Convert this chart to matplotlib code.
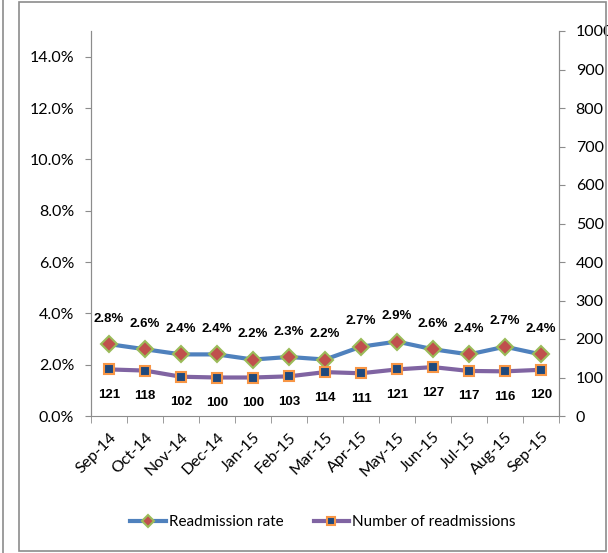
import matplotlib
matplotlib.use("Agg")
import matplotlib.pyplot as plt
from matplotlib.lines import Line2D
from matplotlib.patches import Rectangle
import numpy as np

months = ["Sep-14", "Oct-14", "Nov-14", "Dec-14", "Jan-15", "Feb-15", "Mar-15",
          "Apr-15", "May-15", "Jun-15", "Jul-15", "Aug-15", "Sep-15"]
readmission_rate = [2.8, 2.6, 2.4, 2.4, 2.2, 2.3, 2.2, 2.7, 2.9, 2.6, 2.4, 2.7, 2.4]
readmissions = [121, 118, 102, 100, 100, 103, 114, 111, 121, 127, 117, 116, 120]
pct_ticks = [0, 2, 4, 6, 8, 10, 12, 14]
count_ticks = [0, 100, 200, 300, 400, 500, 600, 700, 800, 900, 1000]

plt.rcParams["font.family"] = ["Lato", "DejaVu Sans"]

fig = plt.figure(figsize=(6.08, 5.53), dpi=100)
W, H = 608, 553

# outer frames
fig.add_artist(Line2D([3 / W, 3 / W], [0, 1], color="#8c8c8c", lw=1.2))
fig.add_artist(Rectangle((19 / W, 2 / H), 587 / W, 549 / H, fill=False,
                         edgecolor="#8c8c8c", lw=1.2, transform=fig.transFigure))

ax = fig.add_axes([91 / W, (H - 416) / H, (559 - 91) / W, (416 - 31) / H])
ax2 = ax.twinx()

x = np.arange(len(months))

l1, = ax.plot(x, readmission_rate, color="#4F81BD", lw=3, marker="D", ms=8,
              markerfacecolor="#C0504D", markeredgecolor="#9BBB59", mew=1.5, zorder=3)
l2, = ax2.plot(x, readmissions, color="#8064A2", lw=3, marker="s", ms=7,
               markerfacecolor="#1F497D", markeredgecolor="#F79646", mew=1.5, zorder=3)

for xi, v in zip(x, readmission_rate):
    ax.annotate(f"{v:.1f}%", (xi, v), xytext=(0, 14), textcoords="offset points",
                ha="center", va="bottom", fontsize=9.5, fontweight="bold",
                family="Liberation Sans", color="black")
for xi, v in zip(x, readmissions):
    ax2.annotate(f"{v}", (xi, v), xytext=(0, -14), textcoords="offset points",
                 ha="center", va="top", fontsize=9.5, fontweight="bold",
                 family="Liberation Sans", color="black")

ax.set_xlim(-0.5, len(months) - 0.5)
ax.set_ylim(0, 15)
ax2.set_ylim(0, 1000)

ax.set_yticks(pct_ticks)
ax.set_yticklabels([f"{t:.1f}%" for t in pct_ticks])
ax2.set_yticks(count_ticks)
ax2.set_yticklabels([str(t) for t in count_ticks])

ax.set_xticks(x)
ax.set_xticklabels(months, rotation=45, ha="right", rotation_mode="anchor")
ax.set_xticks(np.arange(-0.5, len(months)), minor=True)
ax.tick_params(axis="x", which="major", length=0, labelsize=11.5, pad=10)
ax.tick_params(axis="x", which="minor", length=5, color="#8c8c8c", direction="out")

ax.tick_params(axis="y", labelsize=11.5, length=4, color="#8c8c8c", pad=8)
ax2.tick_params(axis="y", labelsize=11.5, length=4, color="#8c8c8c", pad=8)

for a in (ax, ax2):
    a.spines["top"].set_visible(False)
    for s in ("left", "right", "bottom"):
        a.spines[s].set_color("#8c8c8c")
ax2.spines["bottom"].set_visible(False)

fig.legend([l1, l2], ["Readmission rate", "Number of readmissions"],
           loc="center", bbox_to_anchor=(323 / W, (H - 522) / H), ncol=2,
           frameon=False, fontsize=11, handlelength=2.3, columnspacing=2.0,
           handletextpad=0.2, markerscale=0.75)

fig.savefig("out.png", dpi=100)
